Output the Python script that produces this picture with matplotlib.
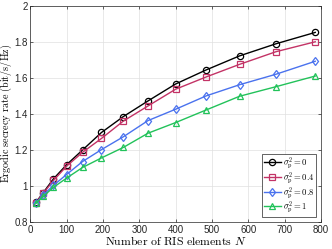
import numpy as np
import matplotlib.pyplot as plt
from matplotlib.ticker import FuncFormatter

plt.rcParams['mathtext.fontset'] = 'cm'
plt.rcParams['font.family'] = ['Liberation Sans', 'DejaVu Sans']

# number of RIS elements
N = [16, 36, 64, 100, 144, 196, 256, 324, 400, 484, 576, 676, 784]

# ergodic secrecy rate for each sigma_p^2
rate_0 = [0.91, 0.964, 1.04, 1.118, 1.20, 1.297, 1.385, 1.472, 1.566, 1.644, 1.722, 1.789, 1.852]
rate_04 = [0.908, 0.96, 1.031, 1.11, 1.187, 1.264, 1.36, 1.444, 1.537, 1.605, 1.675, 1.745, 1.80]
rate_08 = [0.905, 0.951, 1.004, 1.064, 1.136, 1.202, 1.273, 1.363, 1.426, 1.50, 1.562, 1.620, 1.692]
rate_1 = [0.905, 0.943, 0.993, 1.044, 1.103, 1.156, 1.214, 1.293, 1.352, 1.422, 1.498, 1.551, 1.61]

labels = [r'$\sigma_{\rm p}^2 = 0$', r'$\sigma_{\rm p}^2 = 0.4$',
          r'$\sigma_{\rm p}^2 = 0.8$', r'$\sigma_{\rm p}^2 = 1$']
colors = ['#000000', '#c33366', '#4a72ee', '#22c25a']
markers = ['o', 's', 'd', '^']

fig = plt.figure(figsize=(3.32, 2.49), dpi=100)
ax = fig.add_axes([0.091, 0.108, 0.876, 0.869])

for y, lab, c, m in zip([rate_0, rate_04, rate_08, rate_1], labels, colors, markers):
    ax.plot(N, y, color=c, marker=m, markersize=4.5, markerfacecolor='none',
            markeredgewidth=0.9, linewidth=1.0, label=lab)

ax.set_xlim(0, 800)
ax.set_ylim(0.8, 2.0)
ax.set_xticks(np.arange(0, 801, 100))
ax.set_yticks([0.8, 1.0, 1.2, 1.4, 1.6, 1.8, 2.0])
ax.yaxis.set_major_formatter(FuncFormatter(lambda v, p: ('%g' % v)))
ax.tick_params(labelsize=7, direction='in', length=2, width=0.5, colors='#262626',
               pad=2, top=True, right=True)
ax.tick_params(axis='y', pad=1.5)
ax.grid(True, color='#e0e0e0', linewidth=0.5)
for s in ax.spines.values():
    s.set_linewidth(0.5)
    s.set_color('#262626')

ax.set_xlabel(r'$\mathrm{Number\ of\ RIS\ elements}\ N$', fontsize=8.5, labelpad=0)
ax.set_ylabel(r'$\mathrm{Ergodic\ secrecy\ rate\ (bit/s/Hz)}$', fontsize=7.3, labelpad=0)
ax.yaxis.set_label_coords(-0.055, 0.5)

leg = ax.legend(loc='lower right', fontsize=6.2, handlelength=2.0, handletextpad=0.2,
                borderpad=0.2, labelspacing=-0.15, fancybox=False, framealpha=1,
                edgecolor='#262626', borderaxespad=0.6)
leg.get_frame().set_linewidth(0.5)

fig.savefig('out.png', dpi=100)
